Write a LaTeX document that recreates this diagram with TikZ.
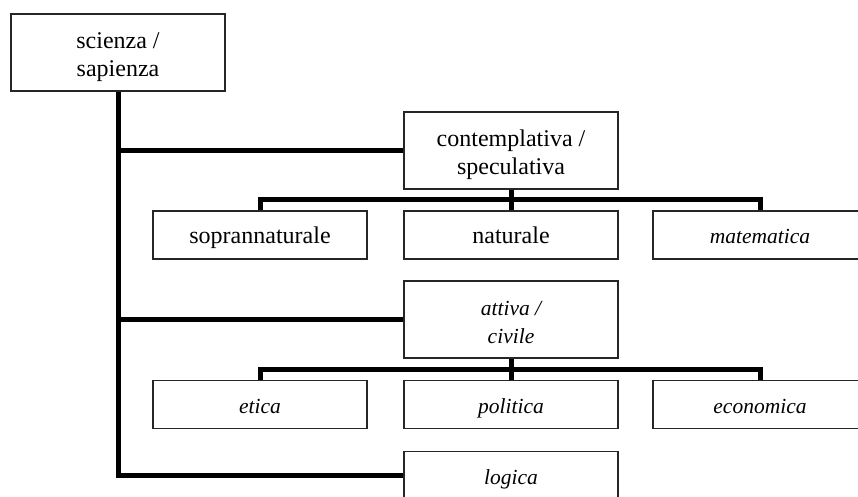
\documentclass[tikz,border=0pt]{standalone}
\usepackage{fontspec}
\setmainfont{Liberation Serif}
\begin{document}
\begin{tikzpicture}[x=1pt,y=-1pt,
  box/.style={draw=black!85, line width=1.4pt, fill=white, inner sep=0pt,
    minimum width=214pt, align=center,
    font=\fontsize{24}{28}\selectfont},
  it/.style={font=\fontsize{21.5}{28}\selectfont\itshape},
  tall/.style={box, minimum height=77pt, text height=50pt, text depth=2.5pt},
  short/.style={box, minimum height=48pt, text height=20pt, text depth=2.5pt},
  conn/.style={line width=5pt, line join=miter, line cap=butt}]
\useasboundingbox (0,0) rectangle (858,496);
\clip (0,0) rectangle (858,496);
\fill[white] (0,0) rectangle (858,496);
\node[tall]  (sci)  at (118,52.5)  {scienza /\\sapienza};
\node[tall]  (cont) at (511,150.5) {contemplativa /\\speculativa};
\node[short] (sopr) at (260,235)   {soprannaturale};
\node[short] (nat)  at (511,235)   {naturale};
\node[short,it] (mat)  at (760,235)   {matematica};
\node[tall,it]  (att)  at (511,319.5) {attiva /\\civile};
\node[short,it] (eti)  at (260,404.5) {etica};
\node[short,it] (pol)  at (511,404.5) {politica};
\node[short,it] (eco)  at (760,404.5) {economica};
\node[short,it] (log)  at (511,475.5) {logica};
\draw[conn] (sci.south) |- (log.west);
\draw[conn] (cont.west) -- (cont.west -| sci.south);
\draw[conn] (att.west) -- (att.west -| sci.south);
\draw[conn] (sopr.north) -- ++(0,-11) -| (mat.north);
\draw[conn] (cont.south) -- (nat.north);
\draw[conn] (eti.north) -- ++(0,-10) -| (eco.north);
\draw[conn] (att.south) -- (pol.north);
\end{tikzpicture}
\end{document}
